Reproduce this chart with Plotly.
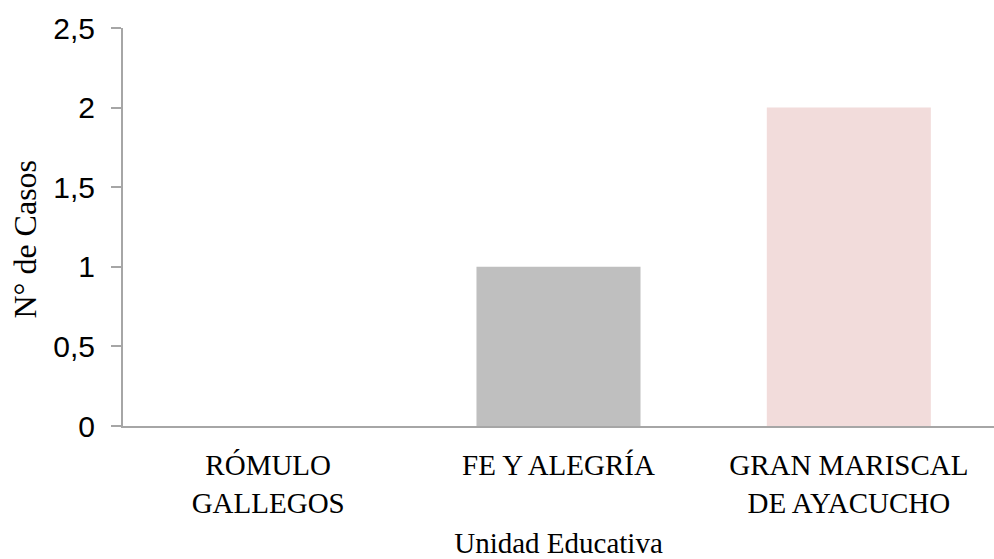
import plotly.graph_objects as go

categories = ["RÓMULO<br>GALLEGOS", "FE Y ALEGRÍA", "GRAN MARISCAL<br>DE AYACUCHO"]
values = [0, 1, 2]
colors = ["#4F81BD", "#BFBFBF", "#F2DCDB"]
y_ticks = [0, 0.5, 1, 1.5, 2, 2.5]
y_tick_labels = ["0", "0,5", "1", "1,5", "2", "2,5"]

fig = go.Figure(go.Bar(x=categories, y=values, marker=dict(color=colors, line=dict(width=0)), width=0.565))

fig.update_layout(
    width=994, height=559,
    margin=dict(l=123, r=0, t=28, b=133),
    paper_bgcolor="white", plot_bgcolor="white",
    showlegend=False,
)
fig.update_xaxes(
    automargin=False,
    showline=True, linecolor="#A6A6A6", linewidth=2,
    showgrid=False, ticks="",
    tickfont=dict(family="Liberation Serif", size=29, color="black"),
    ticklabelstandoff=12,
    title=dict(text="Unidad Educativa", font=dict(family="Liberation Serif", size=29, color="black"), standoff=31),
)
fig.update_yaxes(
    automargin=False,
    range=[0, 2.5], tickvals=y_ticks, ticktext=y_tick_labels,
    showline=True, linecolor="#A6A6A6", linewidth=2,
    showgrid=False, ticks="outside", ticklen=10, tickcolor="#A6A6A6", tickwidth=2,
    tickfont=dict(family="Liberation Sans", size=30, color="black"),
    ticklabelstandoff=10,
    zeroline=False,
)
fig.add_annotation(
    text="N° de Casos", textangle=-90,
    xref="paper", yref="paper", x=-0.113, y=0.47,
    xanchor="center", yanchor="middle", showarrow=False,
    font=dict(family="Liberation Serif", size=32, color="black"),
)
fig.write_html("out.html")
